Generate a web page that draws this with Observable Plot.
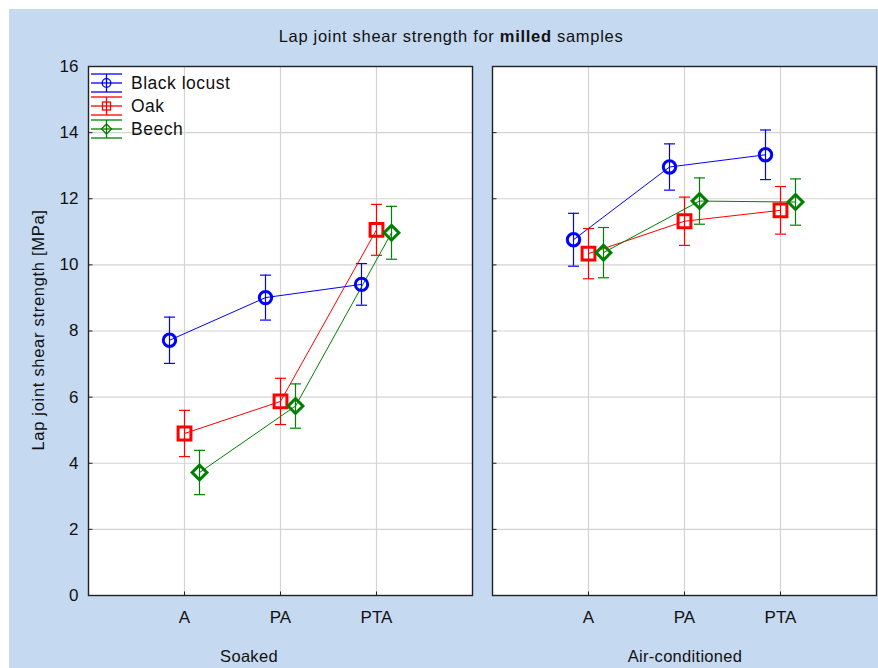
<!DOCTYPE html>
<html>
<head>
<meta charset="utf-8">
<script src="https://cdn.jsdelivr.net/npm/d3@7"></script>
<script src="https://cdn.jsdelivr.net/npm/@observablehq/plot@0.6"></script>
<style>
  html, body { margin: 0; padding: 0; background: #ffffff; }
  #wrap { position: relative; width: 878px; height: 668px; overflow: hidden; }
  #bg { position: absolute; left: 9px; top: 9px; width: 869px; height: 659px; background: #c5d9f1; }
  #chart { position: absolute; left: 0; top: 0; }
  #overlay { position: absolute; left: 0; top: 0; pointer-events: none; }
  text { font-family: "Liberation Sans", Arial, sans-serif; }
</style>
</head>
<body>
<div id="wrap">
  <div id="bg"></div>
  <div id="chart"></div>
  <svg id="overlay" width="878" height="668"></svg>
</div>
<script>
// ---- data ----
const conditions = ["Soaked", "Air-conditioned"];
const treatments = ["A", "PA", "PTA"];
const species = ["Black locust", "Oak", "Beech"];
// values: Soaked A, PA, PTA, then Air-conditioned A, PA, PTA
const blackLocustMean = [7.72, 9.01, 9.41, 10.76, 12.96, 13.33];
const blackLocustErr  = [0.70, 0.68, 0.63, 0.80, 0.70, 0.75];
const oakMean         = [4.90, 5.87, 11.06, 10.34, 11.32, 11.65];
const oakErr          = [0.70, 0.70, 0.77, 0.76, 0.73, 0.72];
const beechMean       = [3.72, 5.73, 10.97, 10.37, 11.93, 11.90];
const beechErr        = [0.67, 0.67, 0.80, 0.76, 0.70, 0.70];
const yTicks = [0, 2, 4, 6, 8, 10, 12, 14, 16];
const titleText = ["Lap joint shear strength for ", "milled", " samples"];
const yLabel = "Lap joint shear strength [MPa]";

// ---- styles ----
const colors = {"Black locust": "#0000ff", "Oak": "#ff0000", "Beech": "#008000"};
const offsets = {"Black locust": -15, "Oak": 0, "Beech": 15};

const means = [blackLocustMean, oakMean, beechMean];
const errs = [blackLocustErr, oakErr, beechErr];
const rows = [];
species.forEach((sp, si) => conditions.forEach((c, ci) => treatments.forEach((t, ti) => {
  const k = ci * 3 + ti;
  rows.push({species: sp, condition: c, treatment: t, mean: means[si][k],
    lo: means[si][k] - errs[si][k], hi: means[si][k] + errs[si][k]});
})));

const half = s => Math.sqrt(s / Math.PI);
const capSym = {draw(c, s) { const h = half(s); c.moveTo(-h, 0); c.lineTo(h, 0); }};
const squareSym = {draw(c, s) { const h = half(s); c.moveTo(-h, -h); c.lineTo(h, -h); c.lineTo(h, h); c.lineTo(-h, h); c.closePath(); }};
const diamondSym = {draw(c, s) { const h = half(s); c.moveTo(0, -h); c.lineTo(h, 0); c.lineTo(0, h); c.lineTo(-h, 0); c.closePath(); }};
const tickRight = {draw(c, s) { const h = half(s); c.moveTo(0, 0); c.lineTo(h, 0); }};
const tickUp = {draw(c, s) { const h = half(s); c.moveTo(0, 0); c.lineTo(0, -h); }};
const symbols = {"Black locust": "circle", "Oak": squareSym, "Beech": diamondSym};
const symR = {"Black locust": 6.2, "Oak": 6.4, "Beech": 7.4};

const seriesMarks = species.flatMap(sp => {
  const d = rows.filter(r => r.species === sp);
  const col = colors[sp], dx = offsets[sp];
  return [
    Plot.line(d, {x: "treatment", y: "mean", fx: "condition", stroke: col, strokeWidth: 1, dx}),
    Plot.ruleX(d, {x: "treatment", y1: "lo", y2: "hi", fx: "condition", stroke: col, strokeWidth: 1.2, dx}),
    Plot.dot(d, {x: "treatment", y: "lo", fx: "condition", stroke: col, strokeWidth: 1.2, symbol: capSym, r: 5.5, dx}),
    Plot.dot(d, {x: "treatment", y: "hi", fx: "condition", stroke: col, strokeWidth: 1.2, symbol: capSym, r: 5.5, dx})
  ];
});
const markerMarks = species.map(sp => {
  const d = rows.filter(r => r.species === sp);
  return Plot.dot(d, {x: "treatment", y: "mean", fx: "condition", stroke: colors[sp], fill: "none",
    strokeWidth: 3, symbol: symbols[sp], r: symR[sp], dx: offsets[sp]});
});

const chart = Plot.plot({
  width: 878, height: 668,
  marginLeft: 88, marginRight: 2, marginTop: 66, marginBottom: 73,
  style: {background: "transparent", fontFamily: "'Liberation Sans', Arial, sans-serif", fontSize: "17px", color: "#111"},
  fx: {domain: conditions, paddingInner: 0.0495, paddingOuter: 0, round: false, axis: null, label: null},
  x: {type: "point", domain: treatments, padding: 1, label: null, round: false},
  y: {domain: [0, 16], label: null},
  marks: [
    Plot.frame({fill: "white", stroke: "none"}),
    Plot.gridY(yTicks.filter(v => v > 0 && v < 16), {stroke: "#d3d3d3", strokeOpacity: 1, strokeWidth: 1.2}),
    Plot.gridX(treatments, {stroke: "#d3d3d3", strokeOpacity: 1, strokeWidth: 1.2}),
    Plot.dot(yTicks, {y: d => d, frameAnchor: "left", symbol: tickRight, r: 4, stroke: "#222", strokeWidth: 1}),
    Plot.dot(treatments, {x: d => d, frameAnchor: "bottom", symbol: tickUp, r: 4, stroke: "#222", strokeWidth: 1}),
    Plot.axisY({ticks: yTicks, tickSize: 0, tickPadding: 10, label: null, fill: "#111"}),
    Plot.axisX({tickSize: 0, tickPadding: 15, label: null, fill: "#111"}),
    ...seriesMarks,
    ...markerMarks,
    Plot.frame({stroke: "#222", strokeWidth: 1.4})
  ]
});
document.getElementById("chart").appendChild(chart);

// ---- overlay text: title, y label, facet labels, legend ----
const ov = d3.select("#overlay");
const title = ov.append("text").attr("x", 451).attr("y", 41.5).attr("text-anchor", "middle")
  .attr("font-size", 16.5).attr("letter-spacing", 0.7).attr("fill", "#111");
title.append("tspan").text(titleText[0]);
title.append("tspan").attr("font-weight", "bold").text(titleText[1]);
title.append("tspan").text(titleText[2]);

ov.append("text").attr("transform", "translate(44,330) rotate(-90)").attr("text-anchor", "middle")
  .attr("font-size", 16.5).attr("letter-spacing", 0.7).attr("fill", "#111").text(yLabel);

const facetLabelX = {"Soaked": 249, "Air-conditioned": 685};
conditions.forEach(c => {
  ov.append("text").attr("x", facetLabelX[c]).attr("y", 662).attr("text-anchor", "middle")
    .attr("font-size", 16.5).attr("letter-spacing", 0.3).attr("fill", "#111").text(c);
});

const legendY = {"Black locust": 83, "Oak": 106, "Beech": 129};
species.forEach(sp => {
  const cy = legendY[sp], col = colors[sp];
  const g = ov.append("g").attr("stroke", col).attr("fill", "none").attr("stroke-width", 1.3);
  g.append("line").attr("x1", 91).attr("x2", 122).attr("y1", cy - 9).attr("y2", cy - 9);
  g.append("line").attr("x1", 91).attr("x2", 122).attr("y1", cy + 9).attr("y2", cy + 9);
  g.append("line").attr("x1", 91).attr("x2", 122).attr("y1", cy).attr("y2", cy);
  g.append("line").attr("x1", 106.5).attr("x2", 106.5).attr("y1", cy - 9).attr("y2", cy + 9);
  if (sp === "Black locust") g.append("circle").attr("cx", 106.5).attr("cy", cy).attr("r", 4.3);
  else if (sp === "Oak") g.append("rect").attr("x", 102.5).attr("y", cy - 4).attr("width", 8).attr("height", 8);
  else g.append("path").attr("d", `M106.5,${cy - 5}L111.5,${cy}L106.5,${cy + 5}L101.5,${cy}Z`);
  ov.append("text").attr("x", 131).attr("y", cy + 6.3).attr("font-size", 17.5).attr("letter-spacing", 0.5)
    .attr("fill", "#111").text(sp);
});
</script>
</body>
</html>
